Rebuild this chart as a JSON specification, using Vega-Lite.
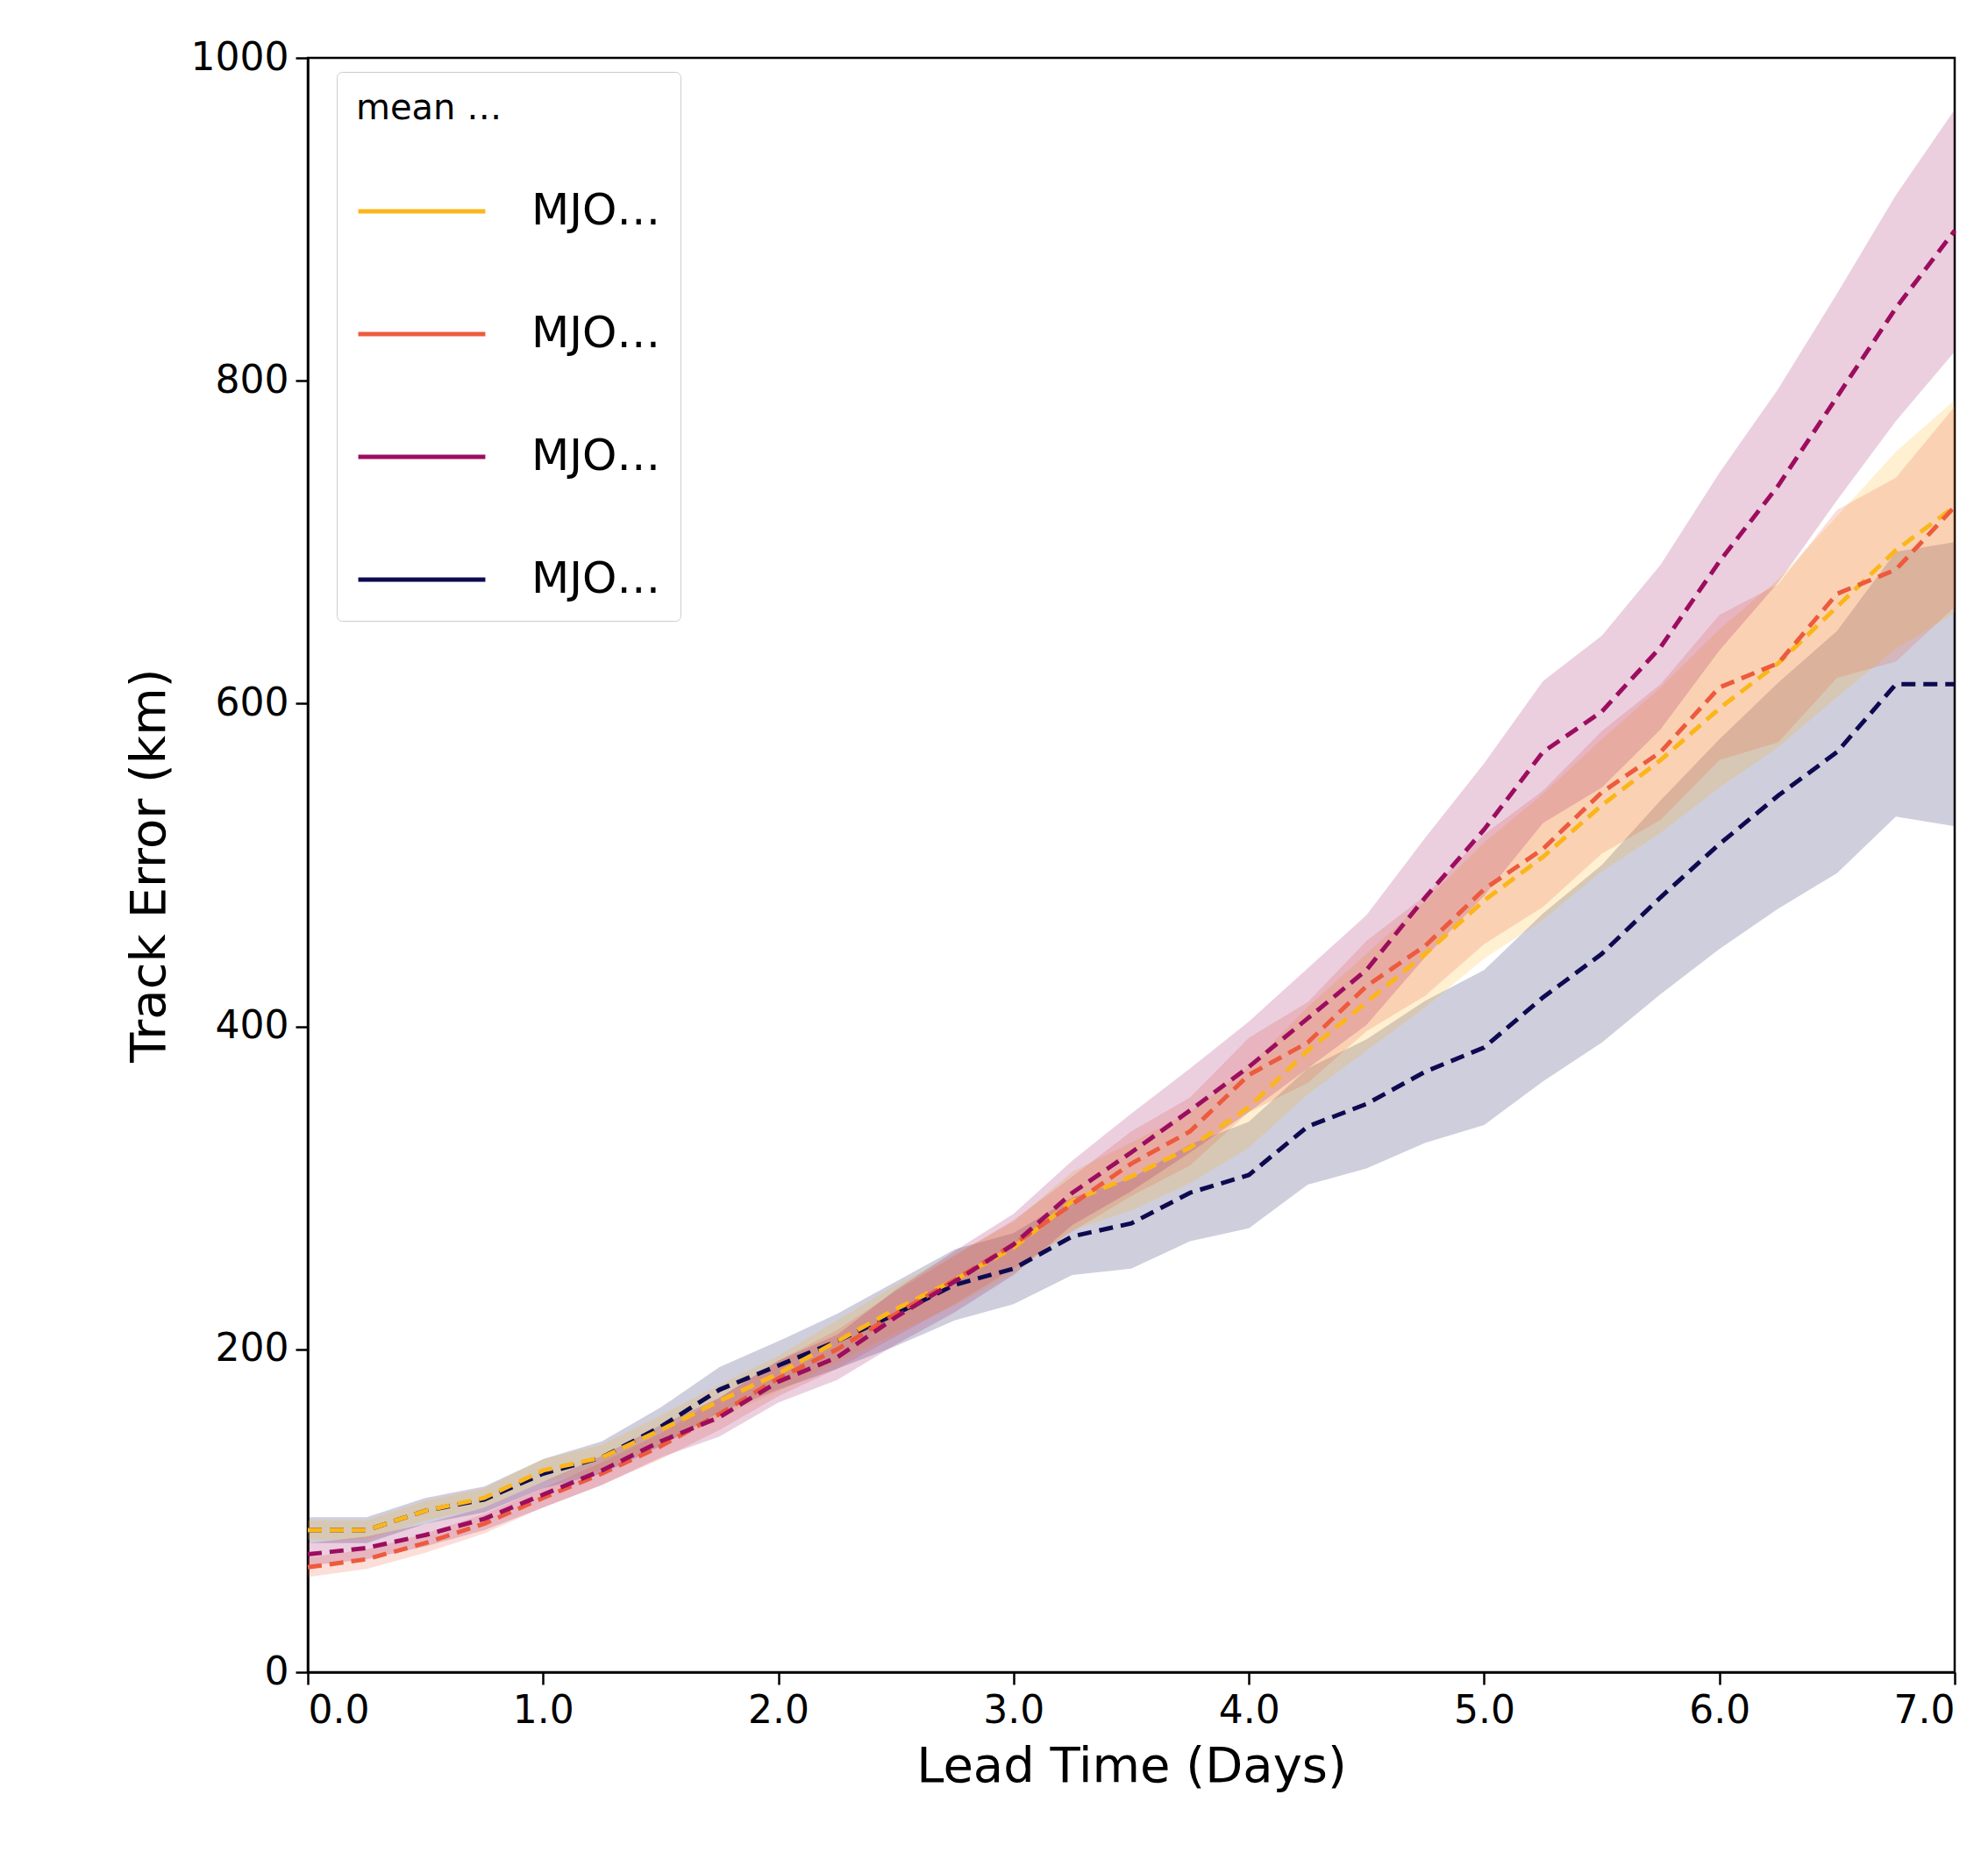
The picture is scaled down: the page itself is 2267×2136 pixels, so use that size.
{
  "$schema": "https://vega.github.io/schema/vega-lite/v6.json",
  "width": 1878,
  "height": 1841,
  "autosize": "none",
  "padding": {"left": 351, "top": 66, "right": 38, "bottom": 229},
  "background": "white",
  "config": {
    "font": "DejaVu Sans",
    "view": {"stroke": "black", "strokeWidth": 2.5},
    "axis": {"grid": false, "domainColor": "black", "domainWidth": 2.5, "tickColor": "black", "tickWidth": 2.5, "tickSize": 14, "labelFontSize": 44, "labelColor": "black", "titleFontSize": 56, "titleFontWeight": "normal", "titleColor": "black", "labelPadding": 8}
  },
  "resolve": {"legend": {"color": "independent"}},
  "data": {"values": [
    {"t":0,"s":"MJO 8-1","m":88,"lo":80,"hi":96},{"t":0.25,"s":"MJO 8-1","m":88,"lo":80,"hi":96},{"t":0.5,"s":"MJO 8-1","m":100,"lo":92,"hi":108},{"t":0.75,"s":"MJO 8-1","m":107,"lo":99,"hi":115},{"t":1,"s":"MJO 8-1","m":123,"lo":114,"hi":132},{"t":1.25,"s":"MJO 8-1","m":133,"lo":123,"hi":143},{"t":1.5,"s":"MJO 8-1","m":152,"lo":140,"hi":164},{"t":1.75,"s":"MJO 8-1","m":175,"lo":161,"hi":189},{"t":2,"s":"MJO 8-1","m":190,"lo":175,"hi":205},{"t":2.25,"s":"MJO 8-1","m":205,"lo":188,"hi":222},{"t":2.5,"s":"MJO 8-1","m":222,"lo":202,"hi":242},{"t":2.75,"s":"MJO 8-1","m":240,"lo":218,"hi":262},{"t":3,"s":"MJO 8-1","m":250,"lo":228,"hi":272},{"t":3.25,"s":"MJO 8-1","m":270,"lo":246,"hi":294},{"t":3.5,"s":"MJO 8-1","m":278,"lo":250,"hi":306},{"t":3.75,"s":"MJO 8-1","m":297,"lo":267,"hi":327},{"t":4,"s":"MJO 8-1","m":308,"lo":275,"hi":341},{"t":4.25,"s":"MJO 8-1","m":338,"lo":302,"hi":374},{"t":4.5,"s":"MJO 8-1","m":352,"lo":312,"hi":392},{"t":4.75,"s":"MJO 8-1","m":372,"lo":328,"hi":416},{"t":5,"s":"MJO 8-1","m":387,"lo":339,"hi":435},{"t":5.25,"s":"MJO 8-1","m":418,"lo":366,"hi":470},{"t":5.5,"s":"MJO 8-1","m":445,"lo":390,"hi":500},{"t":5.75,"s":"MJO 8-1","m":480,"lo":420,"hi":540},{"t":6,"s":"MJO 8-1","m":513,"lo":448,"hi":578},{"t":6.25,"s":"MJO 8-1","m":543,"lo":473,"hi":613},{"t":6.5,"s":"MJO 8-1","m":570,"lo":495,"hi":645},{"t":6.75,"s":"MJO 8-1","m":612,"lo":530,"hi":694},{"t":7,"s":"MJO 8-1","m":612,"lo":524,"hi":700},
    {"t":0,"s":"MJO 2-3","m":88,"lo":82,"hi":94},{"t":0.25,"s":"MJO 2-3","m":88,"lo":82,"hi":94},{"t":0.5,"s":"MJO 2-3","m":100,"lo":94,"hi":106},{"t":0.75,"s":"MJO 2-3","m":108,"lo":102,"hi":114},{"t":1,"s":"MJO 2-3","m":125,"lo":118,"hi":132},{"t":1.25,"s":"MJO 2-3","m":133,"lo":125,"hi":141},{"t":1.5,"s":"MJO 2-3","m":150,"lo":141,"hi":159},{"t":1.75,"s":"MJO 2-3","m":168,"lo":158,"hi":178},{"t":2,"s":"MJO 2-3","m":185,"lo":174,"hi":196},{"t":2.25,"s":"MJO 2-3","m":205,"lo":192,"hi":218},{"t":2.5,"s":"MJO 2-3","m":225,"lo":210,"hi":240},{"t":2.75,"s":"MJO 2-3","m":243,"lo":227,"hi":259},{"t":3,"s":"MJO 2-3","m":263,"lo":247,"hi":279},{"t":3.25,"s":"MJO 2-3","m":292,"lo":274,"hi":310},{"t":3.5,"s":"MJO 2-3","m":307,"lo":286,"hi":328},{"t":3.75,"s":"MJO 2-3","m":325,"lo":303,"hi":347},{"t":4,"s":"MJO 2-3","m":350,"lo":325,"hi":375},{"t":4.25,"s":"MJO 2-3","m":385,"lo":358,"hi":412},{"t":4.5,"s":"MJO 2-3","m":415,"lo":385,"hi":445},{"t":4.75,"s":"MJO 2-3","m":445,"lo":412,"hi":478},{"t":5,"s":"MJO 2-3","m":478,"lo":442,"hi":514},{"t":5.25,"s":"MJO 2-3","m":505,"lo":466,"hi":544},{"t":5.5,"s":"MJO 2-3","m":537,"lo":496,"hi":578},{"t":5.75,"s":"MJO 2-3","m":565,"lo":520,"hi":610},{"t":6,"s":"MJO 2-3","m":597,"lo":548,"hi":646},{"t":6.25,"s":"MJO 2-3","m":625,"lo":573,"hi":677},{"t":6.5,"s":"MJO 2-3","m":660,"lo":604,"hi":716},{"t":6.75,"s":"MJO 2-3","m":695,"lo":634,"hi":756},{"t":7,"s":"MJO 2-3","m":722,"lo":656,"hi":788},
    {"t":0,"s":"MJO 4-5","m":65,"lo":59,"hi":71},{"t":0.25,"s":"MJO 4-5","m":70,"lo":64,"hi":76},{"t":0.5,"s":"MJO 4-5","m":80,"lo":74,"hi":86},{"t":0.75,"s":"MJO 4-5","m":92,"lo":86,"hi":98},{"t":1,"s":"MJO 4-5","m":108,"lo":102,"hi":114},{"t":1.25,"s":"MJO 4-5","m":123,"lo":116,"hi":130},{"t":1.5,"s":"MJO 4-5","m":140,"lo":132,"hi":148},{"t":1.75,"s":"MJO 4-5","m":160,"lo":150,"hi":170},{"t":2,"s":"MJO 4-5","m":182,"lo":171,"hi":193},{"t":2.25,"s":"MJO 4-5","m":200,"lo":188,"hi":212},{"t":2.5,"s":"MJO 4-5","m":222,"lo":208,"hi":236},{"t":2.75,"s":"MJO 4-5","m":243,"lo":228,"hi":258},{"t":3,"s":"MJO 4-5","m":265,"lo":250,"hi":280},{"t":3.25,"s":"MJO 4-5","m":290,"lo":273,"hi":307},{"t":3.5,"s":"MJO 4-5","m":315,"lo":295,"hi":335},{"t":3.75,"s":"MJO 4-5","m":335,"lo":314,"hi":356},{"t":4,"s":"MJO 4-5","m":370,"lo":347,"hi":393},{"t":4.25,"s":"MJO 4-5","m":390,"lo":365,"hi":415},{"t":4.5,"s":"MJO 4-5","m":425,"lo":397,"hi":453},{"t":4.75,"s":"MJO 4-5","m":450,"lo":419,"hi":481},{"t":5,"s":"MJO 4-5","m":485,"lo":451,"hi":519},{"t":5.25,"s":"MJO 4-5","m":510,"lo":474,"hi":546},{"t":5.5,"s":"MJO 4-5","m":545,"lo":507,"hi":583},{"t":5.75,"s":"MJO 4-5","m":570,"lo":528,"hi":612},{"t":6,"s":"MJO 4-5","m":610,"lo":565,"hi":655},{"t":6.25,"s":"MJO 4-5","m":625,"lo":576,"hi":674},{"t":6.5,"s":"MJO 4-5","m":668,"lo":616,"hi":720},{"t":6.75,"s":"MJO 4-5","m":683,"lo":626,"hi":740},{"t":7,"s":"MJO 4-5","m":722,"lo":660,"hi":784},
    {"t":0,"s":"MJO 6-7","m":73,"lo":66,"hi":80},{"t":0.25,"s":"MJO 6-7","m":77,"lo":70,"hi":84},{"t":0.5,"s":"MJO 6-7","m":85,"lo":78,"hi":92},{"t":0.75,"s":"MJO 6-7","m":95,"lo":88,"hi":102},{"t":1,"s":"MJO 6-7","m":110,"lo":102,"hi":118},{"t":1.25,"s":"MJO 6-7","m":125,"lo":116,"hi":134},{"t":1.5,"s":"MJO 6-7","m":143,"lo":133,"hi":153},{"t":1.75,"s":"MJO 6-7","m":158,"lo":146,"hi":170},{"t":2,"s":"MJO 6-7","m":180,"lo":167,"hi":193},{"t":2.25,"s":"MJO 6-7","m":195,"lo":181,"hi":209},{"t":2.5,"s":"MJO 6-7","m":220,"lo":203,"hi":237},{"t":2.75,"s":"MJO 6-7","m":242,"lo":223,"hi":261},{"t":3,"s":"MJO 6-7","m":265,"lo":246,"hi":284},{"t":3.25,"s":"MJO 6-7","m":297,"lo":277,"hi":317},{"t":3.5,"s":"MJO 6-7","m":322,"lo":298,"hi":346},{"t":3.75,"s":"MJO 6-7","m":348,"lo":322,"hi":374},{"t":4,"s":"MJO 6-7","m":375,"lo":347,"hi":403},{"t":4.25,"s":"MJO 6-7","m":405,"lo":374,"hi":436},{"t":4.5,"s":"MJO 6-7","m":435,"lo":401,"hi":469},{"t":4.75,"s":"MJO 6-7","m":480,"lo":443,"hi":517},{"t":5,"s":"MJO 6-7","m":522,"lo":481,"hi":563},{"t":5.25,"s":"MJO 6-7","m":570,"lo":526,"hi":614},{"t":5.5,"s":"MJO 6-7","m":595,"lo":548,"hi":642},{"t":5.75,"s":"MJO 6-7","m":635,"lo":584,"hi":686},{"t":6,"s":"MJO 6-7","m":688,"lo":633,"hi":743},{"t":6.25,"s":"MJO 6-7","m":735,"lo":675,"hi":795},{"t":6.5,"s":"MJO 6-7","m":790,"lo":726,"hi":854},{"t":6.75,"s":"MJO 6-7","m":845,"lo":775,"hi":915},{"t":7,"s":"MJO 6-7","m":893,"lo":818,"hi":968}
  ]},
  "layer": [
    {
      "mark": {"type": "area", "opacity": 0.2},
      "encoding": {
        "x": {"field": "t", "type": "quantitative", "title": "Lead Time (Days)", "scale": {"domain": [0, 7], "nice": false}, "axis": {"values": [0,1,2,3,4,5,6,7], "titlePadding": 14}},
        "y": {"field": "lo", "type": "quantitative", "title": "Track Error (km)", "scale": {"domain": [0, 1000], "nice": false}, "axis": {"values": [0,200,400,600,800,1000], "format": "d", "titlePadding": 18}},
        "y2": {"field": "hi"},
        "color": {"field": "s", "type": "nominal", "legend": null,
          "scale": {"domain": ["MJO 2-3", "MJO 4-5", "MJO 6-7", "MJO 8-1"], "range": ["#fbb61a", "#ed5a3d", "#9c0d5f", "#0d0a50"]}}
      }
    },
    {
      "mark": {"type": "line", "strokeDash": [16, 9], "strokeWidth": 5},
      "encoding": {
        "x": {"field": "t", "type": "quantitative"},
        "y": {"field": "m", "type": "quantitative"},
        "color": {
          "field": "s", "type": "nominal",
          "scale": {"domain": ["MJO 2-3", "MJO 4-5", "MJO 6-7", "MJO 8-1"], "range": ["#fbb61a", "#ed5a3d", "#9c0d5f", "#0d0a50"]},
          "legend": {
            "title": "mean verified against ECMWF analysis",
            "orient": "none", "legendX": 33, "legendY": 16,
            "titleFontSize": 40, "titleFontWeight": "normal", "titleColor": "black", "titlePadding": 22,
            "labelFontSize": 50, "labelColor": "black", "labelOffset": 50,
            "symbolType": "stroke", "symbolSize": 21000, "symbolStrokeWidth": 5, "symbolDash": [1, 0],
            "rowPadding": 40, "padding": 22, "fillColor": "white",
            "strokeColor": "#cccccc", "cornerRadius": 6
          }
        }
      }
    }
  ]
}
